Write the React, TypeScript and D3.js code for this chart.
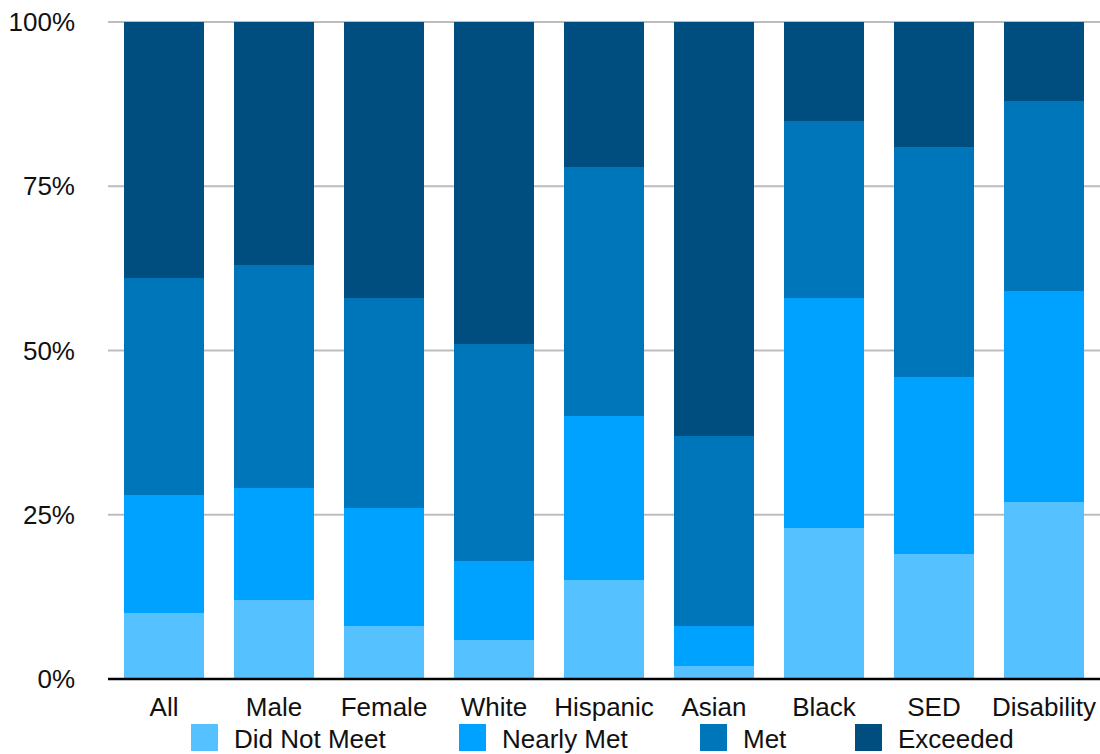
import React from "react";
import * as d3 from "d3";

// Student groups along the x axis
const categories = ["All", "Male", "Female", "White", "Hispanic", "Asian", "Black", "SED", "Disability"];

// Share of students (%) at each achievement level, per group
const didNotMeet = [10, 12, 8, 6, 15, 2, 23, 19, 27];
const nearlyMet = [18, 17, 18, 12, 25, 6, 35, 27, 32];
const met = [33, 34, 32, 33, 38, 29, 27, 35, 29];
const exceeded = [39, 37, 42, 49, 22, 63, 15, 19, 12];

const seriesNames = ["Did Not Meet", "Nearly Met", "Met", "Exceeded"];
const seriesColors = ["#56C1FF", "#00A2FF", "#0076BA", "#004D80"];
const yTicks = [0, 25, 50, 75, 100];

const W = 1100;
const H = 754;
const FONT = "'Liberation Sans', Arial, Helvetica, sans-serif";

export default function App() {
  const rows = categories.map((c, i) => ({
    category: c,
    "Did Not Meet": didNotMeet[i],
    "Nearly Met": nearlyMet[i],
    Met: met[i],
    Exceeded: exceeded[i],
  }));

  const stacked = d3.stack<any>().keys(seriesNames)(rows);

  const x = d3
    .scaleBand<string>()
    .domain(categories)
    .range([109, 1099])
    .paddingInner(30 / 110)
    .paddingOuter(15 / 110);

  const y = d3.scaleLinear().domain([0, 100]).range([679, 22]);

  const legendX = [191, 459, 700, 855];

  return (
    <svg
      width={W}
      height={H}
      style={{ position: "absolute", left: 0, top: 0, fontFamily: FONT }}
    >
      <rect x={0} y={0} width={W} height={H} fill="#fff" />
      {/* horizontal gridlines */}
      {yTicks.map((t) => (
        <line
          key={"g" + t}
          x1={108}
          x2={1100}
          y1={y(t)}
          y2={y(t)}
          stroke="#BDBDBD"
          strokeWidth={2}
        />
      ))}
      {/* y tick labels */}
      {yTicks.map((t) => (
        <text
          key={"t" + t}
          x={75}
          y={y(t)}
          textAnchor="end"
          dominantBaseline="central"
          fontSize={26}
          fill="#111"
        >
          {t + "%"}
        </text>
      ))}
      {/* stacked bars */}
      {stacked.map((s, si) => (
        <g key={s.key} fill={seriesColors[si]} shapeRendering="crispEdges">
          {s.map((d, i) => (
            <rect
              key={i}
              x={x(categories[i])}
              width={x.bandwidth()}
              y={y(d[1])}
              height={y(d[0]) - y(d[1])}
            />
          ))}
        </g>
      ))}
      {/* baseline axis */}
      <line x1={108} x2={1100} y1={y(0)} y2={y(0)} stroke="#000" strokeWidth={2.5} />
      {/* category labels */}
      {categories.map((c) => (
        <text
          key={c}
          x={(x(c) as number) + x.bandwidth() / 2}
          y={716}
          textAnchor="middle"
          fontSize={26}
          fill="#111"
        >
          {c}
        </text>
      ))}
      {/* legend */}
      {seriesNames.map((n, i) => (
        <g key={n} transform={`translate(${legendX[i]},724)`}>
          <rect x={0} y={0} width={27} height={27} fill={seriesColors[i]} />
          <text x={43} y={24} fontSize={26} fill="#111">
            {n}
          </text>
        </g>
      ))}
    </svg>
  );
}
